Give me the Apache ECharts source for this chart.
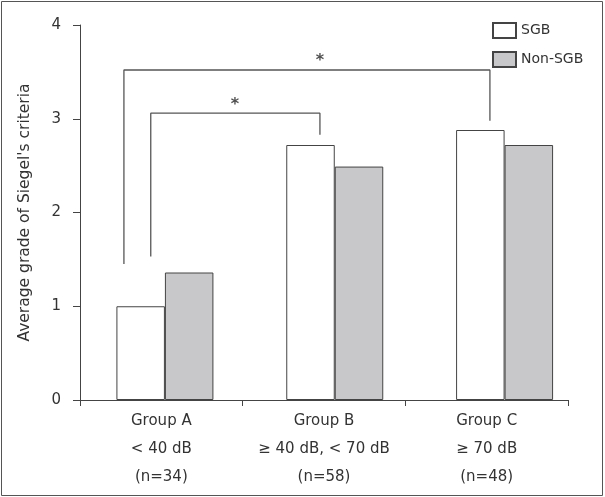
<!DOCTYPE html>
<html>
<head>
<meta charset="utf-8">
<script src="https://cdn.jsdelivr.net/npm/echarts@6/dist/echarts.min.js"></script>
<style>html,body{margin:0;padding:0;background:#fff}#c{width:605px;height:497px}</style>
</head>
<body>
<div id="c"></div>
<script>
const categories = ['Group A\n< 40 dB\n(n=34)', 'Group B\n≥ 40 dB, < 70 dB\n(n=58)', 'Group C\n≥ 70 dB\n(n=48)'];
const sgb = [1.0, 2.72, 2.88];
const nonSgb = [1.36, 2.49, 2.72];
// significance brackets in data units (x on a 0..3 continuous scale across groups)
const bracketAC = [[0.27, 1.45], [0.27, 3.52], [2.52, 3.52], [2.52, 2.98]];
const bracketAB = [[0.435, 1.53], [0.435, 3.06], [1.475, 3.06], [1.475, 2.83]];
const stars = [[1.475, 3.66], [0.953, 3.19]];

const font = '"DejaVu Sans", sans-serif';
const txt = '#333';
const chart = echarts.init(document.getElementById('c'));
chart.setOption({
  animation: false,
  textStyle: { fontFamily: font },
  graphic: [{
    type: 'rect', shape: { x: 1.5, y: 1.5, width: 601, height: 494 },
    style: { fill: 'none', stroke: '#555', lineWidth: 1 }, z: 100
  }],
  legend: {
    orient: 'vertical', left: 487, top: 17, itemWidth: 23, itemHeight: 15, itemGap: 12,
    textStyle: { fontSize: 14, color: txt, fontFamily: font },
    data: [{ name: 'SGB', icon: 'rect' }, { name: 'Non-SGB', icon: 'rect' }]
  },
  grid: [
    { left: 80, right: 37, top: 25, bottom: 97 },
    { left: 80, right: 15.5, top: 25, bottom: 97 }
  ],
  xAxis: [{
    type: 'category', data: categories, gridIndex: 0,
    axisLine: { lineStyle: { color: '#444', width: 1 } },
    axisTick: { show: true, length: 6, interval: 0, alignWithLabel: false, lineStyle: { color: '#444' } },
    axisLabel: { color: txt, fontSize: 15, lineHeight: 28, margin: 7, interval: 0, fontFamily: font }
  }, {
    type: 'value', min: 0, max: 3, show: false, gridIndex: 0
  }, {
    type: 'category', data: categories, show: false, gridIndex: 1
  }],
  yAxis: [{
    type: 'value', min: 0, max: 4, interval: 1, gridIndex: 0,
    name: "Average grade of Siegel's criteria", nameLocation: 'middle', nameGap: 47,
    nameTextStyle: { fontSize: 15.5, color: txt, fontFamily: font },
    axisLine: { show: true, lineStyle: { color: '#444', width: 1 } },
    axisTick: { show: true, length: 7, lineStyle: { color: '#444' } },
    axisLabel: { color: txt, fontSize: 15, margin: 19, fontFamily: font },
    splitLine: { show: false }
  }, {
    type: 'value', min: 0, max: 4, interval: 1, gridIndex: 1, show: false
  }],
  series: [{
    name: 'SGB', type: 'bar', data: sgb, xAxisIndex: 2, yAxisIndex: 1, barGap: '0%', barWidth: 48.5,
    itemStyle: { color: '#ffffff', borderColor: '#444', borderWidth: 1 }
  }, {
    name: 'Non-SGB', type: 'bar', data: nonSgb, xAxisIndex: 2, yAxisIndex: 1, barWidth: 48.5,
    itemStyle: { color: '#c8c8ca', borderColor: '#444', borderWidth: 1 }
  }, {
    type: 'line', xAxisIndex: 1, yAxisIndex: 0, data: bracketAC, symbol: 'none', silent: true,
    lineStyle: { color: '#555', width: 1.3 }
  }, {
    type: 'line', xAxisIndex: 1, yAxisIndex: 0, data: bracketAB, symbol: 'none', silent: true,
    lineStyle: { color: '#555', width: 1.3 }
  }, {
    type: 'scatter', xAxisIndex: 1, yAxisIndex: 0, data: stars, symbolSize: 0, silent: true,
    label: { show: true, position: 'inside', formatter: '*', fontSize: 16, fontWeight: 'bold', offset: [0, 4], color: '#222', fontFamily: font }
  }]
});
</script>
</body>
</html>
